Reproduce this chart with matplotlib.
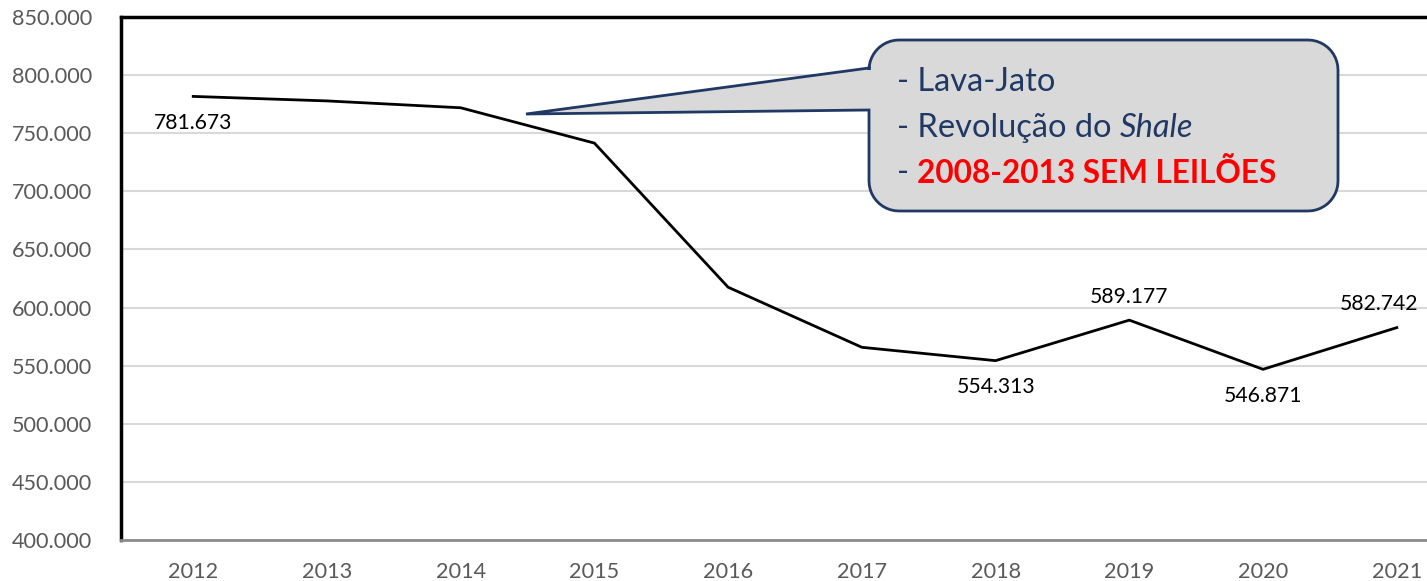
import numpy as np
import matplotlib
matplotlib.use("Agg")
import matplotlib.pyplot as plt
from matplotlib.patches import Polygon
from matplotlib.transforms import Affine2D

years = ["2012", "2013", "2014", "2015", "2016", "2017", "2018", "2019", "2020", "2021"]
values = [781.673, 777.8, 771.9, 741.5, 617.5, 565.8, 554.313, 589.177, 546.871, 582.742]
label_idx = [0, 6, 7, 8, 9]
label_pos = ["below", "below", "above", "below", "above"]
yticks = [400, 450, 500, 550, 600, 650, 700, 750, 800, 850]
callout_lines = ["- Lava-Jato", "- Revolução do ", "- "]

def fmt(v):
    return f"{v:.3f}"

plt.rcParams['font.family'] = ['Lato', 'DejaVu Sans']

W, H = 1427, 581
fig = plt.figure(figsize=(W / 100, H / 100), dpi=100)
ax_left, ax_top, ax_bottom = 121, 17, 540
ax = fig.add_axes([ax_left / W, (H - ax_bottom) / H, 1356 / W, (ax_bottom - ax_top) / H])

x = np.arange(len(years))
ax.plot(x, values, color="black", lw=2, zorder=3, solid_joinstyle="miter")
ax.set_xlim(-0.54, 9.6)
ax.set_ylim(400, 850)
ax.set_yticks(yticks)
ax.set_yticklabels([f"{t}.000" for t in yticks], color="#595959", fontsize=15.6)
ax.set_xticks(x)
ax.set_xticklabels(years, color="#595959", fontsize=15.6)
ax.tick_params(axis='x', length=0, pad=16)
ax.tick_params(axis='y', length=0, pad=21)
ax.grid(axis="y", color="#D9D9D9", lw=1.5)
ax.set_axisbelow(True)
for s in ["left", "top"]:
    ax.spines[s].set_color("black")
    ax.spines[s].set_linewidth(2.5)
ax.spines["right"].set_visible(False)
ax.spines["bottom"].set_color("#8C8C8C")
ax.spines["bottom"].set_linewidth(2)

for i, pos in zip(label_idx, label_pos):
    dy = -19 if pos == "below" else 17
    dx = -13 if i == 9 else 0
    ax.annotate(fmt(values[i]), (x[i], values[i]), xytext=(dx, dy), textcoords="offset points",
                ha="center", va="center", fontsize=15.2, color="black")

# callout in pixel coordinates
tr = Affine2D().scale(1 / W, -1 / H).translate(0, 1) + fig.transFigure
L, R, T, B, r = 869, 1338, 40, 211, 30
def arc(cx, cy, a0, a1, n=12):
    t = np.linspace(np.radians(a0), np.radians(a1), n)
    return list(zip(cx + r * np.cos(t), cy + r * np.sin(t)))
pts = [(L, 110), (526, 114), (L, 68)]
pts += arc(L + r, T + r, 180, 270)
pts += arc(R - r, T + r, 270, 360)
pts += arc(R - r, B - r, 0, 90)
pts += arc(L + r, B - r, 90, 180)
poly = Polygon(pts, closed=True, facecolor="#D9D9D9", edgecolor="#1F3864", lw=2,
               transform=tr, zorder=5, joinstyle="miter")
fig.patches.append(poly)

fs = 23.5
navy = "#1F3864"
y1, y2, y3 = 82, 128, 173
t1 = fig.text(897 / W, 1 - y1 / H, callout_lines[0], fontsize=fs, color=navy, va="center", zorder=6)
t2 = fig.text(897 / W, 1 - y2 / H, callout_lines[1], fontsize=fs, color=navy, va="center", zorder=6)
fig.canvas.draw()
bb = t2.get_window_extent()
fig.text(bb.x1 / W, 1 - y2 / H, "Shale", fontsize=fs, color=navy, style="italic", va="center", zorder=6)
t3 = fig.text(897 / W, 1 - y3 / H, callout_lines[2], fontsize=fs, color=navy, va="center", zorder=6)
fig.canvas.draw()
bb3 = t3.get_window_extent()
fig.text(bb3.x1 / W, 1 - y3 / H, "2008-2013 SEM LEILÕES", fontsize=fs - 0.8, color="#FF0000",
         fontweight="bold", va="center", zorder=6)

fig.savefig("out.png", dpi=100)
